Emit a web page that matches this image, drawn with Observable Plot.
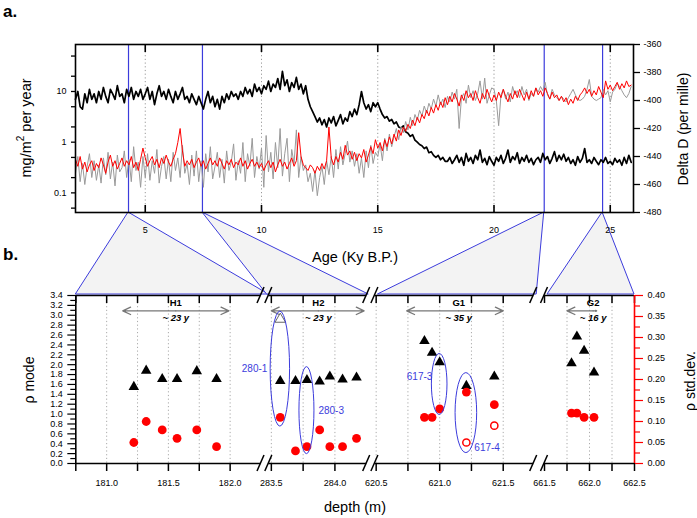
<!DOCTYPE html>
<html><head><meta charset="utf-8">
<script src="https://cdn.jsdelivr.net/npm/d3@7"></script>
<script src="https://cdn.jsdelivr.net/npm/@observablehq/plot@0.6"></script>
<style>
body{margin:0;background:#fff;}
#wrap{position:relative;width:697px;height:518px;overflow:hidden;background:#fff;}
#wrap > svg{position:absolute;left:0;}
</style></head><body><div id="wrap"></div>
<script>
// ---------- Panel a: time series (Ky B.P., 0.1 ky sampling from 2.0 to 25.9) ----------
const dustFlux = [
7,10,5,4.5,9,6,11,7,9,6,
10,7,12,8,6,11,9,7,13,8,
9,6,11,8,12,7,10,8,11,7,
9,12,7,10,5.5,9,13,8,10,7,
11,8,6,10,7,9,12,7,8,6,
9,7,5.5,8,6,4.5,7,10,6,8,
5,7,4.5,8,6,9,7,10,8,9,
7,10,8,12,9,11,8,14,10,12,
9,13,11,16,10,14,12,18,11,25,
13,17,10,15,12,19,11,14,9,13,
7,5,4,3.2,2.5,3,2.2,2.8,2,3,
2.4,3.2,2.1,2.7,3.5,2.3,3,2.6,4,3.2,
4.5,3.5,5.5,10,6,4.5,5.5,4,6,5,
6,4.5,3.5,3,3.2,2.6,2.8,2.3,2.5,2.0,
1.9,2.1,1.6,1.5,1.3,1.4,1.1,1.0,0.9,0.85,
0.75,0.8,0.62,0.65,0.55,0.5,0.55,0.45,0.5,0.42,
0.42,0.5,0.38,0.45,0.55,0.4,0.5,0.35,0.6,0.42,
0.5,0.38,0.55,0.45,0.7,0.4,0.48,0.36,0.52,0.42,
0.35,0.5,0.42,0.55,0.38,0.48,0.7,0.4,0.52,0.45,
0.62,0.38,0.5,0.42,0.55,0.4,0.48,0.36,0.45,0.5,
0.4,0.6,0.45,0.52,0.38,0.48,0.65,0.42,0.55,0.45,
0.58,0.42,0.5,0.38,0.45,0.35,0.52,0.4,0.48,0.75,
0.4,0.45,0.38,0.5,0.42,0.36,0.45,0.4,0.5,0.38,
0.42,0.36,0.48,0.4,0.45,0.35,0.5,0.38,0.55,0.4
];
const deltaDRed = [
-442,-447,-440,-449,-444,-451,-446,-443,-450,-445,
-448,-441,-446,-452,-444,-439,-447,-443,-449,-445,
-441,-447,-443,-446,-440,-448,-444,-450,-442,-434,
-441,-447,-443,-440,-446,-442,-448,-441,-445,-439,
-444,-447,-442,-438,-430,-420,-436,-447,-443,-446,
-442,-448,-444,-441,-447,-443,-449,-445,-441,-446,
-443,-447,-441,-445,-449,-443,-446,-442,-448,-444,
-446,-441,-447,-443,-449,-445,-442,-447,-444,-448,
-445,-450,-446,-443,-448,-444,-451,-446,-442,-447,
-444,-449,-445,-441,-447,-443,-423,-440,-446,-448,
-450,-446,-448,-452,-447,-450,-445,-449,-443,-419,
-441,-446,-440,-444,-437,-442,-432,-439,-436,-442,
-437,-443,-438,-441,-435,-444,-439,-433,-438,-428,
-434,-430,-436,-428,-433,-426,-431,-424,-429,-421,
-425,-419,-422,-417,-420,-414,-418,-412,-416,-410,
-413,-407,-411,-405,-409,-403,-407,-401,-405,-398,
-403,-397,-401,-395,-399,-404,-396,-400,-393,-398,
-395,-400,-393,-398,-402,-395,-399,-392,-397,-401,
-396,-400,-394,-398,-392,-397,-401,-395,-399,-393,
-398,-392,-396,-400,-394,-399,-393,-397,-391,-396,
-393,-397,-391,-395,-399,-394,-398,-396,-400,-397,
-401,-398,-403,-399,-402,-397,-400,-396,-394,-391,
-395,-392,-397,-393,-396,-390,-394,-398,-386,-392,
-389,-393,-390,-387,-392,-388,-391,-386,-390,-389
];
const deltaDGray = [
-452,-440,-458,-445,-460,-447,-438,-455,-443,-457,
-446,-459,-441,-453,-437,-456,-444,-461,-439,-451,
-448,-436,-455,-442,-458,-433,-450,-444,-462,-440,
-455,-438,-457,-443,-452,-435,-459,-447,-440,-456,
-442,-458,-437,-450,-441,-455,-432,-452,-445,-460,
-439,-454,-436,-458,-443,-462,-438,-451,-433,-456,
-447,-437,-455,-442,-459,-436,-450,-444,-431,-457,
-443,-452,-430,-458,-438,-447,-427,-455,-440,-449,
-434,-462,-425,-451,-437,-456,-430,-448,-420,-454,
-438,-427,-458,-435,-445,-421,-455,-440,-450,-446,
-458,-452,-465,-450,-468,-455,-447,-460,-443,-453,
-440,-455,-435,-449,-433,-446,-438,-429,-444,-436,
-447,-438,-452,-441,-455,-436,-448,-432,-445,-437,
-440,-431,-443,-427,-436,-424,-433,-426,-420,-428,
-419,-423,-415,-421,-412,-418,-410,-414,-407,-411,
-404,-409,-402,-406,-399,-404,-396,-403,-399,-405,
-397,-401,-394,-399,-392,-420,-398,-395,-402,-389,
-398,-393,-400,-395,-386,-399,-384,-402,-396,-391,
-392,-400,-418,-396,-392,-399,-394,-401,-390,-396,
-393,-398,-390,-396,-392,-400,-395,-397,-391,-394,
-390,-393,-387,-396,-399,-392,-396,-398,-400,-397,
-399,-401,-398,-395,-392,-396,-399,-400,-399,-397,
-392,-385,-397,-399,-400,-399,-398,-392,-396,-393,
-401,-394,-392,-388,-390,-393,-396,-398,-395,-390
];
const ageTicks = [5, 10, 15, 20, 25];
const fluxTicks = [0.05, 0.1, 0.2, 0.5, 1, 2, 5, 10, 20, 50];
const fluxLabels = [0.1, 1, 10];
const deltaTicks = [-480, -460, -440, -420, -400, -380, -360];
const zoomAges = [4.28, 7.46, 22.16, 24.67];

// ---------- Panel b: rho measurements ----------
const h1Depth = [181.22, 181.32, 181.45, 181.57, 181.73, 181.89];
const h1RhoMode = [1.55, 1.88, 1.71, 1.71, 1.87, 1.71];
const h1RhoStd = [0.05, 0.10, 0.08, 0.06, 0.08, 0.04];
const h2Depth = [283.57, 283.69, 283.78, 283.88, 283.96, 284.06, 284.17];
const h2RhoMode = [1.67, 1.67, 1.69, 1.66, 1.76, 1.70, 1.74];
const h2RhoStd = [0.11, 0.03, 0.04, 0.08, 0.04, 0.04, 0.06];
const g1Depth = [620.88, 620.94, 621.00, 621.21, 621.43];
const g1RhoMode = [2.48, 2.24, 2.05, 1.57, 1.76];
const g1RhoStd = [0.11, 0.11, 0.13, 0.17, 0.14];
const g2Depth = [661.80, 661.86, 661.94, 662.05];
const g2RhoMode = [2.03, 2.57, 2.28, 1.84];
const g2RhoStd = [0.12, 0.12, 0.11, 0.11];
const openModeDepth = [283.57];
const openModeValue = [2.92];
const openStdDepth = [621.21, 621.43];
const openStdValue = [0.05, 0.09];

const bandNames = ["H1", "H2", "G1", "G2"];
const bandYears = ["~ 23 y", "~ 23 y", "~ 35 y", "~ 16 y"];
const bandFrom = [181.13, 283.50, 620.74, 661.75];
const bandTo = [181.99, 284.23, 621.50, 662.08];
const bandMid = [181.56, 283.87, 621.15, 662.04];

const sampleNames = ["280-1", "280-3", "617-3", "617-4"];
const sampleSeg = [1, 1, 2, 2];
const sampleDepth = [283.571, 283.78, 621.0, 621.21];
const sampleRho = [1.91, 1.07, 1.60, 1.02];

const rhoMajor = [0,0.2,0.4,0.6,0.8,1.0,1.2,1.4,1.6,1.8,2.0,2.2,2.4,2.6,2.8,3.0,3.2,3.4];
const rhoMinor = [0.1,0.3,0.5,0.7,0.9,1.1,1.3,1.5,1.7,1.9,2.1,2.3,2.5,2.7,2.9,3.1,3.3];
const stdMajor = [0,0.05,0.10,0.15,0.20,0.25,0.30,0.35,0.40];
const stdMinor = [0.025,0.075,0.125,0.175,0.225,0.275,0.325,0.375];
const depthTicks = [
  [180.75, 181, 181.25, 181.5, 181.75, 182],
  [283.5, 283.75, 284],
  [620.5, 620.75, 621, 621.25, 621.5],
  [661.5, 661.75, 662, 662.25, 662.5]
];
const depthLabels = [[181, 181.5, 182], [283.5, 284], [620.5, 621, 621.5], [661.5, 662, 662.5]];
const depthGrid = [
  [181, 181.25, 181.5, 181.75, 182],
  [283.5, 283.75, 284],
  [620.5, 620.75, 621, 621.25, 621.5],
  [661.75, 662, 662.25]
];
const depthDomains = [[180.75, 182.25], [283.48, 284.25], [620.49, 621.74], [661.5, 662.5]];

// ---------- layout ----------
const W = 697, H = 518;
const FONT = '"Liberation Sans", Arial, Helvetica, sans-serif';
const BLUE = "#3c3cdc";
const baseStyle = {background: "transparent", fontFamily: FONT, fontSize: "9px", color: "#000", overflow: "visible"};
const segPx = [[75.3, 260.5], [268.3, 366.2], [374.4, 533.2], [544, 634]];
const BOT_TOP = 280, BOT_H = 238, BOT_MT = 15, BOT_MB = 55;
const ellipseSize = [[9.7, 57.5], [7.5, 43.5], [7.8, 30.5], [10.8, 40]];
const ellipseLabel = [{dx: -12.5, dy: 3, anchor: "end"}, {dx: 12, dy: 3.5, anchor: "start"}, {dx: -6.8, dy: -4, anchor: "end"}, {dx: 8.5, dy: 38, anchor: "start"}];

const wrap = document.getElementById("wrap");
function place(svg, top) { svg.style.position = "absolute"; svg.style.left = "0px"; svg.style.top = top + "px"; wrap.appendChild(svg); }

const ages = d3.range(240).map(i => Math.round((2 + i * 0.1) * 10) / 10);
const topRows = ages.map((a, i) => ({age: a, flux: dustFlux[i], red: deltaDRed[i], gray: deltaDGray[i]}));

const topDims = {width: W, height: 240, marginLeft: 75, marginRight: 64, marginTop: 44, marginBottom: 28, style: baseStyle};

// background connectors layer
const bg = d3.create("svg").attr("width", W).attr("height", H);
place(bg.node(), 0);

const plotA = Plot.plot({
  ...topDims,
  x: {domain: [2, 26]},
  y: {type: "log", domain: [0.041, 84.5]},
  marks: [
    Plot.ruleX(ageTicks, {stroke: "#999", strokeDasharray: "1.2,2.5"}),
    Plot.ruleX(zoomAges, {stroke: BLUE, strokeWidth: 1.2}),
    Plot.line(topRows, {x: "age", y: "flux", stroke: "#000", strokeWidth: 1.7}),
    Plot.axisY(fluxTicks, {anchor: "left", tickSize: 4, tickPadding: 5, strokeWidth: 1.3, tickFormat: d => fluxLabels.includes(d) ? String(d) : "", label: null}),
    Plot.axisX(ageTicks, {anchor: "bottom", tickSize: 0, tickPadding: 14, tickFormat: d => String(d), label: null}),
    Plot.ruleX(ageTicks, {insetBottom: 160, strokeWidth: 1.6}),
    Plot.ruleX(ageTicks, {insetTop: 161, strokeWidth: 1.6})
  ]
});
place(plotA, 0);

const plotB = Plot.plot({
  ...topDims,
  x: {domain: [2, 26], axis: null},
  y: {domain: [-480, -360]},
  marks: [
    Plot.line(topRows, {x: "age", y: "gray", stroke: "#9a9a9a", strokeWidth: 1}),
    Plot.line(topRows, {x: "age", y: "red", stroke: "#ff0000", strokeWidth: 1}),
    Plot.axisY(deltaTicks, {anchor: "right", tickSize: 6, tickPadding: 4, strokeWidth: 1.3, tickFormat: d => String(d), label: null}),
    Plot.frame({strokeWidth: 1.6})
  ]
});
place(plotB, 0);

// bottom segments
const segData = [
  {depth: h1Depth, mode: h1RhoMode, std: h1RhoStd},
  {depth: h2Depth, mode: h2RhoMode, std: h2RhoStd},
  {depth: g1Depth, mode: g1RhoMode, std: g1RhoStd},
  {depth: g2Depth, mode: g2RhoMode, std: g2RhoStd}
];
const ARROW_Y = 3.09, NAME_Y = 3.24, YEARS_Y = 2.95;
const segScales = [];
segData.forEach((sd, i) => {
  const dom = depthDomains[i];
  const inSeg = v => v >= dom[0] && v <= dom[1];
  const rows = sd.depth.map((d, j) => ({depth: d, mode: sd.mode[j], std: sd.std[j]}));
  const openTri = openModeDepth.map((d, j) => ({depth: d, mode: openModeValue[j]})).filter(r => inSeg(r.depth));
  const openCirc = openStdDepth.map((d, j) => ({depth: d, std: openStdValue[j]})).filter(r => inSeg(r.depth));
  const band = [{from: bandFrom[i], to: bandTo[i], mid: bandMid[i], name: bandNames[i], years: bandYears[i]}];
  const common = {width: W, height: BOT_H, marginTop: BOT_MT, marginBottom: BOT_MB, marginLeft: segPx[i][0], marginRight: W - segPx[i][1], style: baseStyle};
  const marksT = [
    Plot.ruleX(depthGrid[i], {stroke: "#aaa", strokeDasharray: "1.2,2.5"}),
    Plot.ruleY([0, 3.4], {strokeWidth: 1.6}),
    Plot.ruleX(depthTicks[i], {insetBottom: 160, strokeWidth: 1.5}),
    Plot.axisX(depthTicks[i], {anchor: "bottom", tickSize: 8, tickPadding: 8, strokeWidth: 1.5, tickFormat: d => depthLabels[i].includes(d) ? d.toFixed(1) : "", label: null}),
    Plot.arrow(band, {x1: "mid", x2: "from", y1: () => ARROW_Y, y2: () => ARROW_Y, stroke: "#777", strokeWidth: 1.3, headLength: 10, headAngle: 50}),
    Plot.arrow(band, {x1: "mid", x2: "to", y1: () => ARROW_Y, y2: () => ARROW_Y, stroke: "#777", strokeWidth: 1.3, headLength: 10, headAngle: 50}),
    Plot.text(band, {x: "mid", y: () => NAME_Y, text: "name", fontWeight: "bold", fontSize: 9.5}),
    Plot.text(band, {x: "mid", y: () => YEARS_Y, text: "years", fontWeight: "bold", fontStyle: "italic", fontSize: 9.5}),
    Plot.dot(rows, {x: "depth", y: "mode", symbol: "triangle", r: 3.9, fill: "#000", stroke: "none"}),
    Plot.dot(openTri, {x: "depth", y: "mode", symbol: "triangle", r: 3.9, fill: "#fff", stroke: "#666", strokeWidth: 1})
  ];
  if (i === 0) {
    marksT.push(Plot.ruleX([dom[0]], {strokeWidth: 1.6}));
    marksT.push(Plot.axisY(rhoMinor, {anchor: "left", tickSize: 5, strokeWidth: 1.2, tickFormat: () => "", label: null}));
    marksT.push(Plot.axisY(rhoMajor, {anchor: "left", tickSize: 8, tickPadding: 5, strokeWidth: 1.2, tickFormat: d => d.toFixed(1), label: null}));
  }
  const plotT = Plot.plot({...common, x: {domain: dom}, y: i === 0 ? {domain: [0, 3.4]} : {domain: [0, 3.4], axis: null}, marks: marksT});
  place(plotT, BOT_TOP);
  const marksC = [
    Plot.dot(rows, {x: "depth", y: "std", r: 4.4, fill: "#ff0000", stroke: "none"}),
    Plot.dot(openCirc, {x: "depth", y: "std", r: 3.6, fill: "#fff", stroke: "#ff0000", strokeWidth: 1.5})
  ];
  if (i === 3) {
    marksC.push(Plot.ruleX([dom[1]], {stroke: "#ff0000", strokeWidth: 1.6}));
    marksC.push(Plot.axisY(stdMinor, {anchor: "right", tickSize: 5, stroke: "#ff0000", strokeWidth: 1.2, tickFormat: () => "", label: null}));
    marksC.push(Plot.axisY(stdMajor, {anchor: "right", tickSize: 8, tickPadding: 5, stroke: "#ff0000", fill: "#000", strokeWidth: 1.2, tickFormat: d => d.toFixed(2), label: null}));
  }
  const plotC = Plot.plot({...common, x: {domain: dom, axis: null}, y: i === 3 ? {domain: [0, 0.4]} : {domain: [0, 0.4], axis: null}, marks: marksC});
  place(plotC, BOT_TOP);
  segScales.push({x: plotT.scale("x"), y: plotT.scale("y")});
});

// connectors (background)
const ax = plotA.scale("x");
const yTopBottom = 240 - 28, yBotTop = BOT_TOP + BOT_MT - 1;
const bases = [
  [segPx[0][0], segPx[1][0]],
  [segPx[0][1] + 6, segPx[1][1] + 2],
  [segPx[2][0] + 3, segPx[2][1] + 3],
  [segPx[3][0] + 3, segPx[3][1]]
];
zoomAges.forEach((a, i) => {
  const px = ax.apply(a);
  bg.append("polygon")
    .attr("points", [[px, yTopBottom], [bases[i][0], yBotTop], [bases[i][1], yBotTop]].map(p => p.join(",")).join(" "))
    .attr("fill", "#f3f3f3").attr("stroke", BLUE).attr("stroke-width", 1);
});

// overlay: breaks, ellipses, labels
const ov = d3.create("svg").attr("width", W).attr("height", H).style("font-family", FONT);
place(ov.node(), 0);
const frameYs = [BOT_TOP + BOT_MT, BOT_TOP + BOT_H - BOT_MB];
for (let i = 0; i < 3; i++) {
  [segPx[i][1], segPx[i + 1][0]].forEach(x => frameYs.forEach(y => {
    ov.append("line").attr("x1", x - 3.5).attr("y1", y + 8).attr("x2", x + 3.5).attr("y2", y - 8)
      .attr("stroke", "#000").attr("stroke-width", 1.5);
  }));
}
sampleNames.forEach((name, i) => {
  const sc = segScales[sampleSeg[i]];
  const cx = sc.x.apply(sampleDepth[i]), cy = sc.y.apply(sampleRho[i]) + BOT_TOP;
  ov.append("ellipse").attr("cx", cx).attr("cy", cy).attr("rx", ellipseSize[i][0]).attr("ry", ellipseSize[i][1])
    .attr("fill", "none").attr("stroke", BLUE).attr("stroke-width", 1);
  const L = ellipseLabel[i];
  ov.append("text").attr("x", cx + L.dx).attr("y", cy + L.dy).attr("text-anchor", L.anchor)
    .attr("font-size", 10).attr("fill", BLUE).text(name);
});
function txt(x, y, s, opts = {}) {
  const t = ov.append("text").attr("x", x).attr("y", y).attr("font-size", opts.size || 14.5)
    .attr("text-anchor", opts.anchor || "middle").attr("fill", "#000");
  if (opts.bold) t.attr("font-weight", "bold");
  if (opts.rotate) t.attr("transform", `rotate(-90 ${x} ${y})`);
  t.text(s);
  return t;
}
txt(3, 17, "a.", {size: 17, bold: true, anchor: "start"});
txt(3, 260, "b.", {size: 17, bold: true, anchor: "start"});
txt(355, 262, "Age (Ky B.P.)");
txt(355, 512, "depth (m)");
const yl = ov.append("text").attr("transform", "translate(31,128) rotate(-90)").attr("text-anchor", "middle").attr("font-size", 14.5);
yl.append("tspan").text("mg/m");
yl.append("tspan").attr("dy", -7).attr("font-size", 10).text("2");
yl.append("tspan").attr("dy", 7).text(" per year");
txt(688, 129, "Delta D (per mille)", {size: 14, rotate: true});
txt(34, 380, "ρ mode", {size: 14, rotate: true});
txt(695, 381, "ρ std.dev.", {size: 14, rotate: true});
</script></body></html>
